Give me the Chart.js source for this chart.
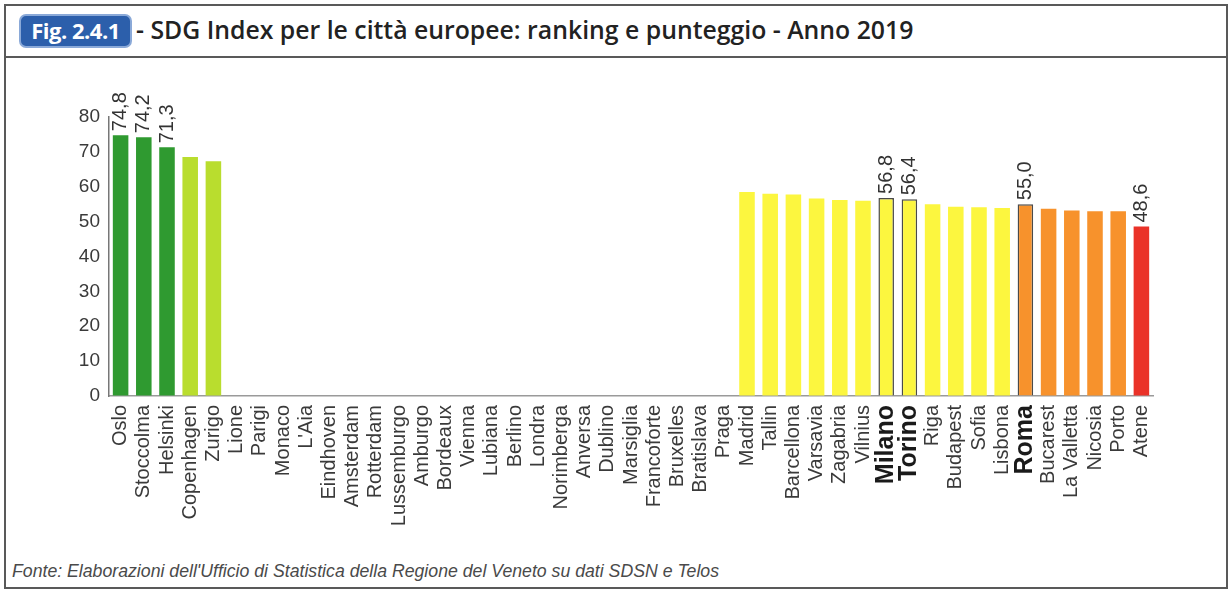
<!DOCTYPE html>
<html lang="it">
<head>
    <meta charset="UTF-8">
    <title>SDG Index per le città europee - Anno 2019</title>
    <script src="https://cdn.jsdelivr.net/npm/chart.js"></script>
    <style>
        body {
            margin: 0;
            width: 1230px;
            height: 591px;
            position: relative;
            overflow: hidden;
            background: #fff;
            font-family: 'Liberation Sans', Arial, sans-serif;
        }

        .frame {
            position: absolute;
            left: 4px;
            top: 4px;
            width: 1224px;
            height: 585px;
            box-sizing: border-box;
            border: 2px solid #595959;
        }

        .divider {
            position: absolute;
            left: 4px;
            top: 56px;
            width: 1224px;
            height: 2px;
            background: #595959;
        }

        .badge {
            position: absolute;
            left: 19px;
            top: 14px;
            width: 113px;
            height: 34px;
            box-sizing: border-box;
            background: #2c5fab;
            border: 2px solid #8aa9d8;
            border-radius: 7px;
            color: #fff;
            font-family: 'Open Sans', sans-serif;
            font-weight: bold;
            font-size: 22px;
            line-height: 29px;
            text-align: center;
            letter-spacing: -0.5px;
        }

        .title {
            position: absolute;
            left: 136px;
            top: 13px;
            font-family: 'Open Sans', sans-serif;
            font-size: 24.8px;
            font-weight: 600;
            line-height: 32px;
            color: #222;
            white-space: nowrap;
        }

        .source {
            position: absolute;
            left: 12px;
            top: 561px;
            font-size: 17.7px;
            font-style: italic;
            color: #4a4a4a;
            white-space: nowrap;
        }

        #sdgChart {
            position: absolute;
            left: 0;
            top: 0;
        }
    </style>
</head>
<body>
    <div class="frame"></div>
    <div class="divider"></div>
    <div class="badge">Fig. 2.4.1</div>
    <div class="title">- SDG Index per le città europee: ranking e punteggio - Anno 2019</div>
    <div class="source">Fonte: Elaborazioni dell'Ufficio di Statistica della Regione del Veneto su dati SDSN e Telos</div>

    <canvas id="sdgChart" width="1230" height="591"></canvas>

    <script>
        const cities = [
            'Oslo', 'Stoccolma', 'Helsinki', 'Copenhagen', 'Zurigo', 'Lione', 'Parigi', 'Monaco',
            "L'Aia", 'Eindhoven', 'Amsterdam', 'Rotterdam', 'Lussemburgo', 'Amburgo', 'Bordeaux',
            'Vienna', 'Lubiana', 'Berlino', 'Londra', 'Norimberga', 'Anversa', 'Dublino', 'Marsiglia',
            'Francoforte', 'Bruxelles', 'Bratislava', 'Praga', 'Madrid', 'Tallin', 'Barcellona',
            'Varsavia', 'Zagabria', 'Vilnius', 'Milano', 'Torino', 'Riga', 'Budapest', 'Sofia',
            'Lisbona', 'Roma', 'Bucarest', 'La Valletta', 'Nicosia', 'Porto', 'Atene'
        ];

        // null = city ranked but not shown with a bar
        const scores = [
            74.8, 74.2, 71.3, 68.5, 67.3, null, null, null,
            null, null, null, null, null, null, null,
            null, null, null, null, null, null, null, null,
            null, null, null, null, 58.5, 58.0, 57.8,
            56.6, 56.2, 56.0, 56.8, 56.4, 55.0, 54.3, 54.1,
            53.9, 55.0, 53.7, 53.2, 53.0, 53.0, 48.6
        ];

        const yTicks = [0, 10, 20, 30, 40, 50, 60, 70, 80];

        // cities whose score is printed above the bar
        const labelledCities = ['Oslo', 'Stoccolma', 'Helsinki', 'Milano', 'Torino', 'Roma', 'Atene'];
        // italian cities: outlined bar and bold label
        const italianCities = ['Milano', 'Torino', 'Roma'];

        const romaIndex = cities.indexOf('Roma');

        function barColor(i) {
            if (i < 3) return '#2f9a30';
            if (i < 5) return '#b9dd2e';
            if (i === cities.length - 1) return '#ea3228';
            if (i >= romaIndex) return '#f7922c';
            return '#fcf63f';
        }

        const valueLabels = {
            id: 'valueLabels',
            afterDatasetsDraw(chart) {
                const { ctx } = chart;
                const meta = chart.getDatasetMeta(0);
                ctx.save();
                ctx.font = '20px "Liberation Sans", Arial, sans-serif';
                ctx.fillStyle = '#333';
                ctx.textAlign = 'left';
                ctx.textBaseline = 'middle';
                meta.data.forEach((bar, i) => {
                    if (!labelledCities.includes(cities[i])) return;
                    ctx.save();
                    ctx.translate(bar.x, bar.y - 4);
                    ctx.rotate(-Math.PI / 2);
                    ctx.fillText(scores[i].toFixed(1).replace('.', ','), 0, 0);
                    ctx.restore();
                });
                ctx.restore();
            }
        };

        const ctx = document.getElementById('sdgChart').getContext('2d');
        const sdgChart = new Chart(ctx, {
            type: 'bar',
            data: {
                labels: cities,
                datasets: [{
                    data: scores,
                    backgroundColor: cities.map((c, i) => barColor(i)),
                    borderColor: cities.map(c => italianCities.includes(c) ? '#4a4a4a' : 'transparent'),
                    borderWidth: cities.map(c => italianCities.includes(c) ? 1.5 : 0),
                    barPercentage: 0.67,
                    categoryPercentage: 1
                }]
            },
            options: {
                responsive: false,
                animation: false,
                layout: {
                    padding: { left: 0, top: 117, right: 77, bottom: 45 }
                },
                plugins: {
                    legend: { display: false },
                    tooltip: { enabled: false }
                },
                scales: {
                    x: {
                        grid: { drawOnChartArea: false, drawTicks: false },
                        border: { color: '#9a9a9a', width: 1.5 },
                        ticks: {
                            autoSkip: false,
                            maxRotation: 90,
                            minRotation: 90,
                            padding: 9,
                            color: c => italianCities.includes(cities[c.index]) ? '#1a1a1a' : '#3a3a3a',
                            font: c => italianCities.includes(cities[c.index])
                                ? { family: '"Liberation Sans", Arial, sans-serif', size: 25, weight: 'bold' }
                                : { family: '"Liberation Sans", Arial, sans-serif', size: 20 }
                        },
                        afterFit(scale) { scale.height = 150; }
                    },
                    y: {
                        min: 0,
                        max: 80,
                        grid: { drawOnChartArea: false, drawTicks: false },
                        border: { color: '#777', width: 1.5 },
                        afterBuildTicks(scale) {
                            scale.ticks = yTicks.map(v => ({ value: v }));
                        },
                        ticks: {
                            padding: 9,
                            color: '#3a3a3a',
                            font: { family: '"Liberation Sans", Arial, sans-serif', size: 19 }
                        },
                        afterFit(scale) { scale.width = 109; }
                    }
                }
            },
            plugins: [valueLabels]
        });
    </script>
</body>
</html>
